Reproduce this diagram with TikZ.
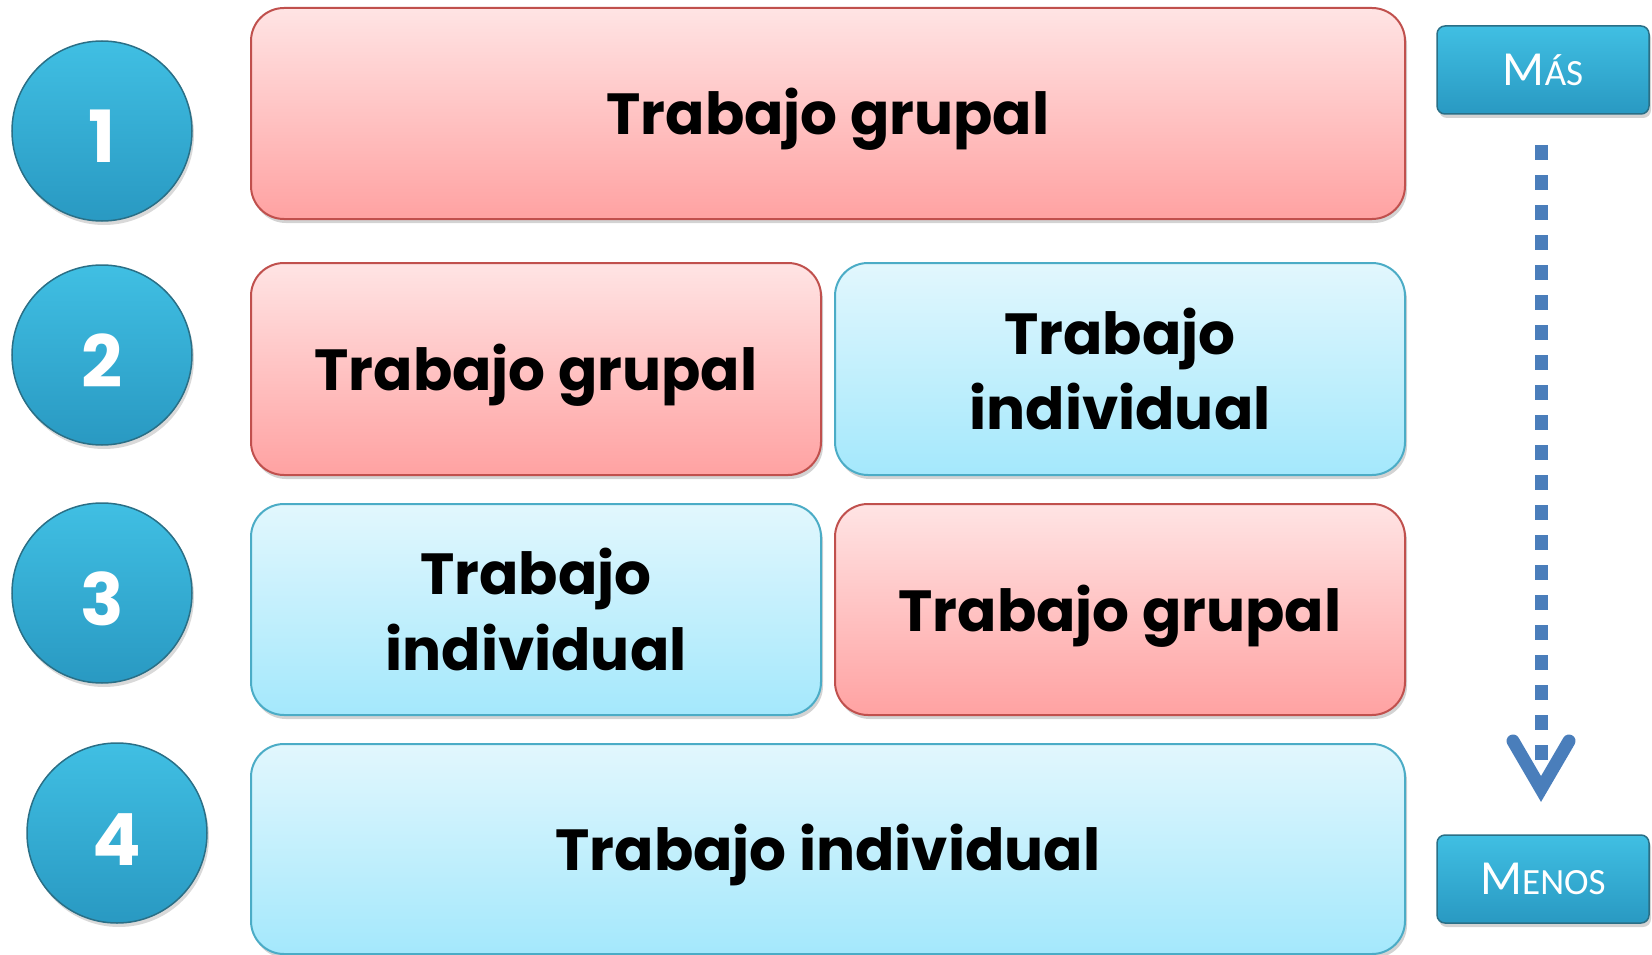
\documentclass[tikz,border=0pt]{standalone}
\usepackage{fontspec}
\setmainfont{Poppins}
\newfontfamily\menufont{Carlito}
\usetikzlibrary{shadows}
\definecolor{pinktop}{HTML}{FFE4E4}
\definecolor{pinkbot}{HTML}{FFA2A2}
\definecolor{pinkline}{HTML}{C0504D}
\definecolor{bluetop}{HTML}{E2F7FD}
\definecolor{bluebot}{HTML}{A4E8FC}
\definecolor{blueline}{HTML}{4BACC6}
\definecolor{balltop}{HTML}{40BFE3}
\definecolor{ballbot}{HTML}{2999C2}
\definecolor{ballline}{HTML}{2A6F86}
\definecolor{arrowblue}{HTML}{4A7EBB}
\tikzset{
  cardbox/.style={rounded corners=33pt, line width=2pt, align=center,
    font=\bfseries\fontsize{58}{76}\selectfont, text=black,
    drop shadow={opacity=0.35, shadow xshift=2pt, shadow yshift=-4pt}},
  oneline/.style={text height=50pt, text depth=7pt},
  pinkbox/.style={cardbox, draw=pinkline, top color=pinktop, bottom color=pinkbot},
  bluebox/.style={cardbox, draw=blueline, top color=bluetop, bottom color=bluebot},
  ball/.style={circle, minimum size=180pt, inner sep=0pt, draw=ballline, line width=1.5pt,
    top color=balltop, bottom color=ballbot, text=white,
    text height=64pt, text depth=0pt,
    font=\bfseries\fontsize{72}{72}\selectfont,
    drop shadow={opacity=0.3, shadow xshift=2pt, shadow yshift=-4pt}},
  tag/.style={rounded corners=8pt, minimum width=212pt, minimum height=88pt, inner sep=0pt,
    draw=ballline, line width=1.5pt, top color=balltop, bottom color=ballbot, text=white,
    drop shadow={opacity=0.35, shadow xshift=2pt, shadow yshift=-4pt}},
  dashline/.style={arrowblue, line width=13pt, dash pattern=on 15pt off 15pt},
  vhead/.style={arrowblue, line width=13pt, line cap=round, line join=miter}
}
\newcommand{\bigM}{\menufont\fontsize{49}{49}\selectfont M}
\newcommand{\smallcaps}[1]{{\menufont\fontsize{37}{37}\selectfont #1}}
\begin{document}
\begin{tikzpicture}[x=1pt,y=-1pt]
\useasboundingbox (0,0) rectangle (1652,955);
% circles
\node[ball] (c1) at (102,131) {1};
\node[ball] (c2) at (102,355) {2};
\node[ball] (c3) at (102,593) {3};
\node[ball] (c4) at (117,833) {4};
% boxes
\node[pinkbox, oneline, minimum width=1154pt, minimum height=211pt] (b1) at (828,113.5) {Trabajo grupal};
\node[pinkbox, oneline, minimum width=570pt, minimum height=212pt] (b2l) at (536,369) {Trabajo grupal};
\node[bluebox, minimum width=570pt, minimum height=212pt] (b2r) at (1120,369) {Trabajo\\individual};
\node[bluebox, minimum width=570pt, minimum height=211pt] (b3l) at (536,609.5) {Trabajo\\individual};
\node[pinkbox, oneline, minimum width=570pt, minimum height=211pt] (b3r) at (1120,609.5) {Trabajo grupal};
\node[bluebox, oneline, minimum width=1154pt, minimum height=210pt] (b4) at (828,849) {Trabajo individual};
% tags
\node[tag] (mas) at (1543,70) {\bigM\smallcaps{ÁS}};
\node[tag] (menos) at (1543,879) {\bigM\smallcaps{ENOS}};
% arrow
\coordinate (atop) at (1541,145);
\coordinate (aend) at (1541,772);
\coordinate (vl) at (1513,741);
\coordinate (vt) at (1541,789);
\coordinate (vr) at (1569,741);
\draw[dashline] (atop) -- (aend);
\draw[vhead] (vl) -- (vt) -- (vr);
\end{tikzpicture}
\end{document}
